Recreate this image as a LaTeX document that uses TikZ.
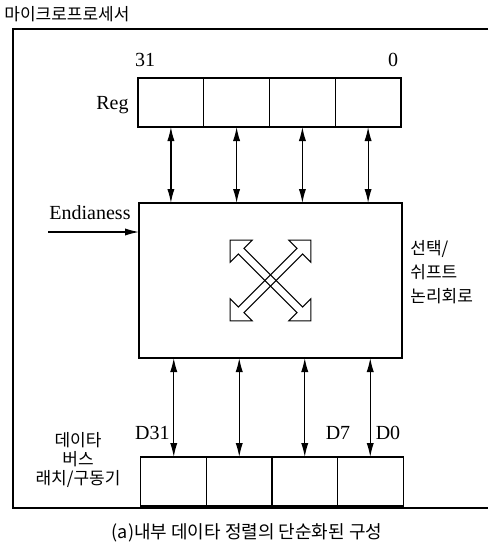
\documentclass[tikz,border=0pt]{standalone}
\usepackage{fontspec}
\setmainfont{Liberation Serif}
\newfontfamily\kor{Noto Sans CJK KR}
\usetikzlibrary{arrows.meta}
\tikzset{
  frame/.style={line width=1.3pt, draw=black},
  cell/.style={draw=black, line width=0.6pt, rectangle, inner sep=0pt, outer sep=0pt,
    minimum width=32.9pt, minimum height=24.5pt},
  logicbox/.style={draw=black, line width=0.6pt, rectangle, inner sep=0pt, outer sep=0pt,
    minimum width=131.5pt, minimum height=77.5pt},
  dbl/.style={line width=0.6pt, {Latex[length=7pt,width=3.6pt]}-{Latex[length=7pt,width=3.6pt]}},
  sig/.style={line width=0.6pt, -{Latex[length=7pt,width=3.6pt]}},
  crossarrow/.style={line width=0.55pt, draw=black, line join=miter},
  lbl/.style={font=\fontsize{10}{12}\selectfont, inner sep=0pt},
  korlbl/.style={font=\kor\fontsize{8.5}{9.5}\selectfont, inner sep=0pt},
}
\begin{document}
\begin{tikzpicture}[x=0.5pt, y=-0.5pt]
\useasboundingbox (0,0) rectangle (488,546);
% title and frame
\node[korlbl, anchor=west] (cpu) at (4,14) {마이크로프로세서};
\draw[frame] (488,29) -- (13,29) -- (13,508) -- (488,508);
% register
\foreach \i/\x in {1/170.9, 2/236.6, 3/302.4, 4/368.1}
  \node[cell] (r\i) at (\x,102.5) {};
\node[lbl] (msb) at (145,60) {31};
\node[lbl] (lsb) at (393,60) {0};
\node[lbl, anchor=east] (reg) at (129,105) {Reg};
% select/shift logic
\node[logicbox] (logic) at (270.5,280.5) {};
\foreach \a in {45,-45}{
  \begin{scope}[shift={(logic.center)}, rotate=\a]
    \draw[crossarrow] (57,0) -- (41.5,15.5) -- (41.5,4) -- (-41.5,4) -- (-41.5,15.5)
      -- (-57,0) -- (-41.5,-15.5) -- (-41.5,-4) -- (41.5,-4) -- (41.5,-15.5) -- cycle;
  \end{scope}
}
\node[korlbl, anchor=north west, align=left, font=\kor\fontsize{8.5}{12}\selectfont] (sel) at (410,240)
  {선택/\\쉬프트\\논리회로};
\node[lbl] (endian) at (90,213) {Endianess};
\coordinate (endin) at (48,232);
\draw[sig] (endin) -- (endin -| logic.west);
% data bus latch/driver
\foreach \i/\x in {1/173.75, 2/239.25, 3/304.75, 4/370.25}
  \node[cell] (b\i) at (\x,481.5) {};
\node[korlbl, align=center] (busl) at (78,460) {데이타\\버스\\래치/구동기};
\node[lbl, anchor=east] (d31) at (170,433) {D31};
\node[lbl] (d7) at (338,433) {D7};
\node[lbl] (d0) at (388,433) {D0};
% connections
\foreach \i in {1,...,4}{
  \draw[dbl] (r\i.south) -- (r\i.south |- logic.north);
  \draw[dbl] (b\i.north |- logic.south) -- (b\i.north);
}
% caption
\node[korlbl, font=\kor\fontsize{9}{11}\selectfont] (cap) at (247,533) {(a)내부 데이타 정렬의 단순화된 구성};
\end{tikzpicture}
\end{document}
